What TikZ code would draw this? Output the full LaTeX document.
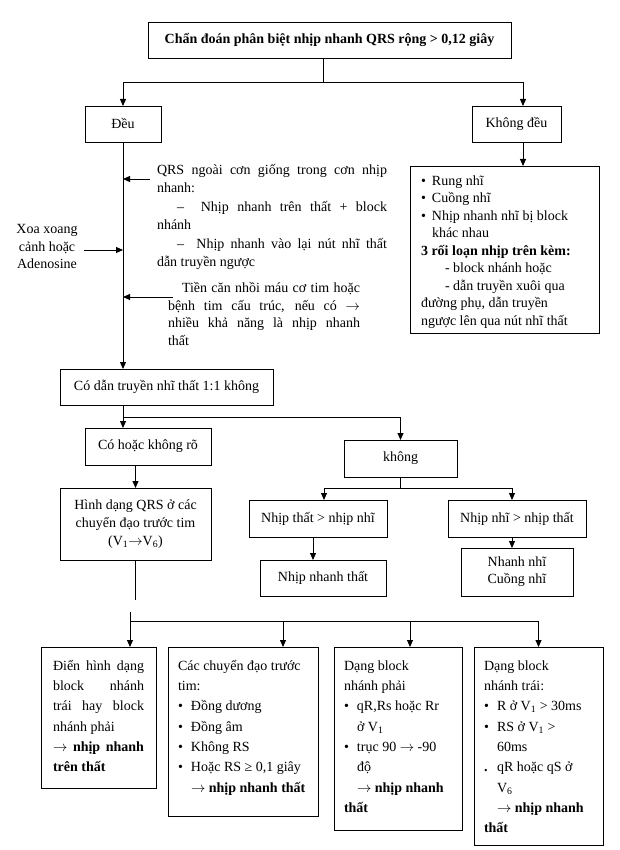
\documentclass[tikz,border=0pt]{standalone}
\usepackage{fontspec}
\setmainfont{Liberation Serif}
\usetikzlibrary{arrows.meta}
\newcommand\fsz{\fontsize{14}{17.5}\selectfont}
\newcommand\tb[4]{\parbox[c][#2][t]{#1}{\raggedright\vspace*{#3}#4}}
\newcommand\jl[1]{\makebox[\linewidth][s]{#1}}
\newcommand\bul{\makebox[13pt][l]{•}}
\newcommand\bulr{\makebox[11pt][l]{•}}
\newcommand\ar{\ensuremath{\rightarrow}}
\begin{document}
\begin{tikzpicture}[x=1pt,y=-1pt,
  box/.style={draw, line width=0.9pt, inner sep=0pt, outer sep=0pt, anchor=north west, font=\fsz},
  arr/.style={-{Triangle[length=7pt,width=6pt]}, line width=0.9pt},
  ln/.style={line width=0.9pt},
  txt/.style={inner sep=0pt, outer sep=0pt, font=\fsz}]
\useasboundingbox (0,0) rectangle (620,850);
\fill[white] (0,0) rectangle (620,850);

% top level
\node[box, minimum width=363pt, minimum height=36pt, font=\fsz\bfseries] (top) at (148,22) {Chẩn đoán phân biệt nhịp nhanh QRS rộng > 0,12 giây};
\node[box, minimum width=76pt, minimum height=36pt] (deu) at (85,106) {Đều};
\node[box, minimum width=89pt, minimum height=36pt] (kdeu) at (472,106) {Không đều};

% right box
\node[box, inner xsep=11pt] (rb) at (410,166) {\tb{167pt}{167pt}{7pt}{\strut\bulr Rung nhĩ\\
\bulr Cuồng nhĩ\\
\bulr Nhịp nhanh nhĩ bị block\\
\hspace*{11pt}khác nhau\\
\textbf{3 rối loạn nhịp trên kèm:}\\
\hspace*{24pt}- block nhánh hoặc\\
\hspace*{24pt}- dẫn truyền xuôi qua\\
đường phụ, dẫn truyền\\
ngược lên qua nút nhĩ thất}};

% side texts
\node[txt, anchor=base west] (qrs) at (157,174.5) {\parbox[t]{230pt}{\fontsize{14}{18.4}\selectfont
\jl{QRS ngoài cơn giống trong cơn nhịp}\\
nhanh:\\
\jl{\hspace*{20pt}–\ \ Nhịp nhanh trên thất + block}\\
nhánh\\
\jl{\hspace*{20pt}–\ \ Nhịp nhanh vào lại nút nhĩ thất}\\
dẫn truyền ngược}};
\node[txt, anchor=base] (xoa) at (47,233.5) {\parbox[t]{80pt}{\centering\fontsize{14}{17.5}\selectfont Xoa xoang\\cảnh hoặc\\Adenosine}};
\node[txt, anchor=base west] (tien) at (168,292.5) {\parbox[t]{192pt}{\fontsize{14}{17.6}\selectfont
\jl{\hspace*{14pt}Tiền căn nhồi máu cơ tim hoặc}\\
\jl{bệnh tim cấu trúc, nếu có \ar}\\
\jl{nhiều khả năng là nhịp nhanh}\\
thất}};

% middle
\node[box, minimum width=213pt, minimum height=36pt] (codan) at (60,369) {Có dẫn truyền nhĩ thất 1:1 không};
\node[box, minimum width=126pt, minimum height=37pt] (cohoac) at (85,428) {Có hoặc không rõ};
\node[box, minimum width=151pt, minimum height=72pt, align=center, font=\fontsize{14}{18}\selectfont] (hinh) at (60,488) {Hình dạng QRS ở các\\chuyển đạo trước tim\\(V\textsubscript{1}\ar V\textsubscript{6})};
\node[box, minimum width=113pt, minimum height=37pt] (khong) at (344,440) {không};
\node[box, minimum width=138pt, minimum height=37pt] (nthat) at (249,500) {Nhịp thất > nhịp nhĩ};
\node[box, minimum width=138pt, minimum height=37pt] (nnhi) at (448,500) {Nhịp nhĩ > nhịp thất};
\node[box, minimum width=126pt, minimum height=36pt] (nnt) at (260,560) {Nhịp nhanh thất};
\node[box, minimum width=112pt, minimum height=48pt, align=center, font=\fontsize{14}{17}\selectfont] (nnc) at (461,548) {Nhanh nhĩ\\Cuồng nhĩ};

% bottom boxes
\node[box, inner xsep=12pt] (b1) at (41,647) {\tb{91pt}{141pt}{9pt}{\fontsize{14}{20.3}\selectfont\strut\jl{Điển hình dạng}\\
\jl{block nhánh}\\
\jl{trái hay block}\\
nhánh phải\\
\jl{\ar{} \textbf{nhịp nhanh}}\\
\textbf{trên thất}}};
\node[box, inner xsep=10pt] (b2) at (168,647) {\tb{130pt}{169pt}{9pt}{\fontsize{14}{20.3}\selectfont\strut Các chuyển đạo trước\\
tim:\\
\bul Đồng dương\\
\bul Đồng âm\\
\bul Không RS\\
\bul Hoặc RS ≥ 0,1 giây\\
\hspace*{13pt}\ar{} \textbf{nhịp nhanh thất}}};
\node[box, inner xsep=10pt] (b3) at (334,647) {\tb{108pt}{183pt}{9pt}{\fontsize{14}{20.3}\selectfont\strut Dạng block\\
nhánh phải\\
\bul qR,Rs hoặc Rr\\
\hspace*{13pt}ở V\textsubscript{1}\\
\bul trục 90 \ar{} -90\\
\hspace*{13pt}độ\\
\hspace*{13pt}\ar{} \textbf{nhịp nhanh}\\
\textbf{thất}}};
\node[box, inner xsep=10pt] (b4) at (474,647) {\tb{109pt}{198pt}{9pt}{\fontsize{14}{20.3}\selectfont\strut Dạng block\\
nhánh trái:\\
\bul R ở V\textsubscript{1} > 30ms\\
\bul RS ở V\textsubscript{1} >\\
\hspace*{13pt}60ms\\
\makebox[13pt][l]{\textbf{.}}qR hoặc qS ở\\
\hspace*{13pt}V\textsubscript{6}\\
\hspace*{13pt}\ar{} \textbf{nhịp nhanh}\\
\textbf{thất}}};

% connectors
\coordinate (t0) at (323,82);
\coordinate (t1) at (523,82);
\draw[ln] (top.south -| t0) -- (t0);
\draw[arr] (t0) -| (deu.north);
\draw[arr] (t0) -- (t1) -- (t1 |- kdeu.north);
\draw[arr] (t1 |- kdeu.south) -- (t1 |- rb.north);
\draw[arr] (deu.south) -- (deu.south |- codan.north);
\coordinate (qa) at (150,179);
\coordinate (xa) at (84,250);
\coordinate (ta) at (173,297);
\draw[arr] (qa) -- (qa -| deu.south);
\draw[arr] (xa) -- (xa -| deu.south);
\draw[arr] (ta) -- (ta -| deu.south);

\coordinate (c0) at (123,417);
\draw[ln] (codan.south -| c0) -- (c0);
\draw[arr] (c0) -- (c0 |- cohoac.north);
\draw[arr] (c0) -| (khong.north);
\draw[arr] (cohoac.south -| hinh.north) -- (hinh.north);

\coordinate (k0) at (400.5,488);
\coordinate (k1) at (324,488);
\coordinate (k2) at (512,488);
\coordinate (k3) at (313,537);
\draw[ln] (khong.south) -- (k0);
\draw[arr] (k0) -- (k1) -- (k1 |- nthat.north);
\draw[arr] (k0) -- (k2) -- (k2 |- nnhi.north);
\draw[arr] (k3 |- nthat.south) -- (k3 |- nnt.north);
\draw[arr] (k2 |- nnhi.south) -- (k2 |- nnc.north);

\coordinate (h1) at (135.5,600);
\coordinate (h2) at (130,612);
\coordinate (h3) at (130,621);
\coordinate (h4) at (283,621);
\coordinate (h5) at (410,621);
\draw[ln] (hinh.south) -- (h1);
\draw[ln] (h2) -- (h3);
\draw[arr] (h3) -- (h3 |- b1.north);
\draw[arr] (h3) -| (b4.north);
\draw[arr] (h4) -- (h4 |- b2.north);
\draw[arr] (h5) -- (h5 |- b3.north);
\end{tikzpicture}
\end{document}
